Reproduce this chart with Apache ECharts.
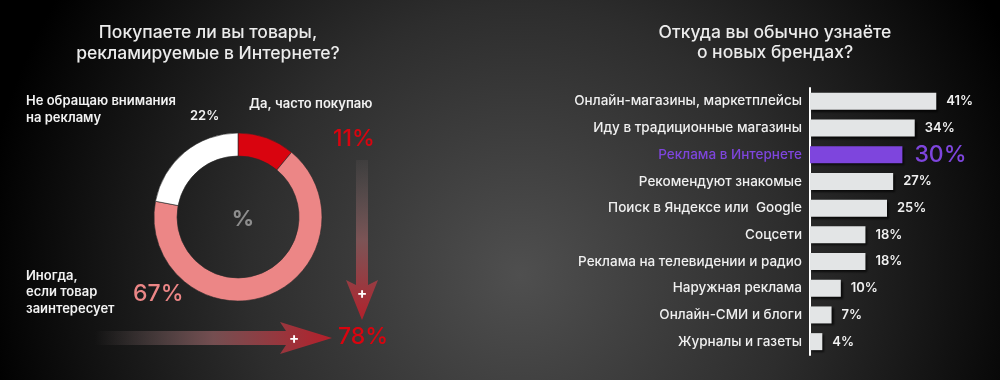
<!DOCTYPE html>
<html><head><meta charset="utf-8">
<script src="https://cdn.jsdelivr.net/npm/echarts@6/dist/echarts.min.js"></script>
<style>html,body{margin:0;padding:0;background:#000}#c{width:1000px;height:380px}</style>
</head><body><div id="c"></div>
<script>
// Donut data
const pieNames = ['Да, часто покупаю', 'Иногда, если товар заинтересует', 'Не обращаю внимания на рекламу'];
const pieValues = [11, 67, 22];
const pieColors = ['#d9040f', '#ec8686', '#ffffff'];

// Bar data
const barCategories = ['Онлайн-магазины, маркетплейсы', 'Иду в традиционные магазины', 'Реклама в Интернете',
  'Рекомендуют знакомые', 'Поиск в Яндексе или  Google', 'Соцсети', 'Реклама на телевидении и радио',
  'Наружная реклама', 'Онлайн-СМИ и блоги', 'Журналы и газеты'];
const barValues = [41, 34, 30, 27, 25, 18, 18, 10, 7, 4];
const highlightIndex = 2;

const FONT = 'Inter, "Noto Sans", sans-serif';
const PURPLE = '#7e45dd';
const chart = echarts.init(document.getElementById('c'), null, {renderer: 'canvas'});

const barData = barValues.map((v, i) => i === highlightIndex ? {
  value: v,
  itemStyle: {color: PURPLE},
  label: {color: PURPLE, fontSize: 23, fontWeight: 500, distance: 12}
} : v);

function txt(x, y, text, opts) {
  return Object.assign({type: 'text', x: x, y: y, z: 10, style: Object.assign({
    text: text, fill: '#f2f2f2', font: '600 13px ' + FONT, textVerticalAlign: 'middle'
  }, opts || {})});
}

const arrowGradV = new echarts.graphic.LinearGradient(0, 0, 0, 1, [
  {offset: 0, color: 'rgba(110,100,100,0.15)'},
  {offset: 0.5, color: 'rgba(140,90,92,0.8)'},
  {offset: 1, color: '#b3202b'}]);
const arrowGradH = new echarts.graphic.LinearGradient(0, 0, 1, 0, [
  {offset: 0, color: 'rgba(110,100,100,0)'},
  {offset: 0.5, color: 'rgba(130,85,88,0.85)'},
  {offset: 1, color: '#b51f2a'}]);

const total78 = pieValues[0] + pieValues[1];
const TITLE = {textAlign: 'center', font: '500 17.5px ' + FONT, fill: '#ececec'};

chart.setOption({
  backgroundColor: '#000',
  animation: false,
  graphic: [
    {type: 'rect', z: -10, silent: true, shape: {x: 0, y: 0, width: 1000, height: 380},
      style: {fill: new echarts.graphic.RadialGradient(520, 275, 540, [
        {offset: 0, color: '#4f4f4f'}, {offset: 0.5, color: '#2d2d2d'}, {offset: 1, color: '#000'}], true)}},
    txt(208, 33, 'Покупаете ли вы товары,', TITLE),
    txt(208, 54, 'рекламируемые в Интернете?', TITLE),
    txt(775, 33, 'Откуда вы обычно узнаёте', TITLE),
    txt(775, 53, 'о новых брендах?', TITLE),
    txt(26, 101, 'Не обращаю внимания'),
    txt(26, 118, 'на рекламу'),
    txt(190, 116, pieValues[2] + '%'),
    txt(249, 104, 'Да, часто покупаю'),
    txt(333, 139, pieValues[0] + '%', {fill: '#d9040f', font: '500 23px ' + FONT}),
    txt(26, 276, 'Иногда,'),
    txt(26, 292, 'если товар'),
    txt(26, 309, 'заинтересует'),
    txt(133, 294, pieValues[1] + '%', {fill: '#ec8686', font: '500 23px ' + FONT}),
    txt(243, 219, '%', {textAlign: 'center', fill: '#8d8d8d', font: '700 22px ' + FONT}),
    // vertical arrow
    {type: 'polygon', z: 5, shape: {points: [[356, 160], [368, 160], [368, 285], [378, 280], [362, 320], [346, 280], [356, 285]]},
      style: {fill: arrowGradV}},
    txt(362, 293, '+', {textAlign: 'center', fill: '#fff', font: '700 15px ' + FONT}),
    // horizontal arrow
    {type: 'polygon', z: 5, shape: {points: [[95, 331], [286, 331], [280, 322], [332, 338], [280, 354], [286, 345], [95, 345]]},
      style: {fill: arrowGradH}},
    txt(294, 338, '+', {textAlign: 'center', fill: '#fff', font: '700 15px ' + FONT}),
    txt(338, 337, total78 + '%', {fill: '#d9040f', font: '500 23px ' + FONT})
  ],
  grid: {left: 810, top: 88, width: 154, height: 267},
  xAxis: {type: 'value', min: 0, max: 50, show: false},
  yAxis: {
    type: 'category', data: barCategories, inverse: true,
    axisLine: {show: true, lineStyle: {color: '#ffffff', width: 2}},
    axisTick: {show: false},
    axisLabel: {
      margin: 8, fontFamily: FONT, fontSize: 13.5, fontWeight: 500, color: '#f0f0f0',
      formatter: (v, i) => i === highlightIndex ? '{h|' + v + '}' : v,
      rich: {h: {color: PURPLE, fontFamily: FONT, fontSize: 13.5, fontWeight: 500}}
    }
  },
  series: [
    {
      type: 'pie', center: [238, 217], radius: [61, 84], startAngle: 90, clockwise: true,
      label: {show: false}, labelLine: {show: false}, silent: true,
      itemStyle: {borderColor: '#2a2a2a', borderWidth: 0.6},
      data: pieNames.map((n, i) => ({name: n, value: pieValues[i], itemStyle: {color: pieColors[i]}}))
    },
    {
      type: 'bar', data: barData, barWidth: 17,
      itemStyle: {color: '#e3e5e6', shadowColor: 'rgba(0,0,0,0.7)', shadowOffsetX: 2, shadowOffsetY: 2, shadowBlur: 2},
      label: {show: true, position: 'right', distance: 10, formatter: '{c}%', color: '#f0f0f0',
        fontFamily: FONT, fontSize: 13, fontWeight: 600}
    }
  ]
});
</script></body></html>
